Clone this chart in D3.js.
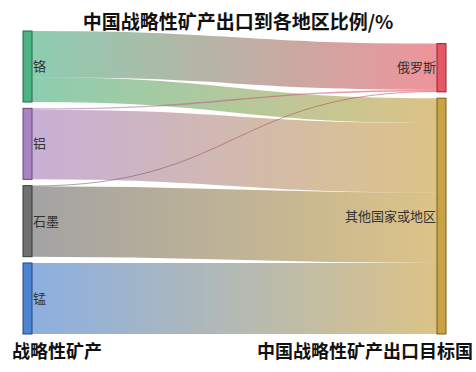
<!DOCTYPE html>
<html>
<head>
<meta charset="utf-8">
<script src="https://cdn.jsdelivr.net/npm/d3@7"></script>
<style>
  html, body { margin: 0; padding: 0; background: #fff; }
  svg { display: block; font-family: "Noto Sans CJK SC", "Noto Sans", sans-serif; }
</style>
</head>
<body>
<svg id="chart" width="476" height="372"></svg>
<script>
// Export shares (%) of each strategic mineral, by destination
const minerals = ["铬", "铝", "石墨", "锰"];
const destinations = ["俄罗斯", "其他国家或地区"];
const toRussia = [65, 2, 1, 0];
const toOthers = [35, 98, 99, 100];

const mineralColors = ["#2ea46e", "#9b6eb6", "#585858", "#2e6ec8"];
const destColors = ["#e03c49", "#bf9225"];

(function () {
  const svg = d3.select("#chart");
  const W = 476;

  // Layout frame
  const yTop = 31, yBottom = 334;
  const nodeW = 9;
  const leftX = 23, rightX = 437;
  const pad = 6.3;

  // Build nodes and links from the arrays
  const sources = minerals.map((name, i) => ({ name, color: mineralColors[i], side: 0,
    value: toRussia[i] + toOthers[i], out: [], in: [] }));
  const targets = destinations.map((name, i) => ({ name, color: destColors[i], side: 1,
    value: 0, out: [], in: [] }));
  const links = [];
  minerals.forEach((m, i) => {
    [toRussia[i], toOthers[i]].forEach((v, j) => {
      if (v > 0) {
        const l = { source: sources[i], target: targets[j], value: v };
        links.push(l);
        sources[i].out.push(l);
        targets[j].in.push(l);
        targets[j].value += v;
      }
    });
  });

  // Value-to-pixel scale, fitted on the busier (left) column
  const leftTotal = d3.sum(sources, d => d.value);
  const k = d3.scaleLinear()
    .domain([0, leftTotal])
    .range([0, (yBottom - yTop) - pad * (sources.length - 1)]);

  // Left column stacked from the top
  let y = yTop;
  sources.forEach(n => { n.x0 = leftX; n.x1 = leftX + nodeW; n.y0 = y; n.y1 = y + k(n.value); y = n.y1 + pad; });
  // Right column stacked up from the bottom
  y = yBottom;
  targets.slice().reverse().forEach(n => { n.x0 = rightX; n.x1 = rightX + nodeW; n.y1 = y; n.y0 = y - k(n.value); y = n.y0 - pad; });

  // Link attachment points
  sources.forEach(n => {
    let yy = n.y0;
    n.out.forEach(l => { l.width = k(l.value); l.y0 = yy + l.width / 2; yy += l.width; });
  });
  targets.forEach(n => {
    let yy = n.y0;
    n.in.forEach(l => { l.y1 = yy + l.width / 2; yy += l.width; });
  });

  // Gradients for links
  const defs = svg.append("defs");
  links.forEach((l, i) => {
    const g = defs.append("linearGradient")
      .attr("id", "lg" + i)
      .attr("gradientUnits", "userSpaceOnUse")
      .attr("x1", l.source.x1).attr("x2", l.target.x0)
      .attr("y1", 0).attr("y2", 0);
    g.append("stop").attr("offset", "0%").attr("stop-color", l.source.color);
    g.append("stop").attr("offset", "100%").attr("stop-color", l.target.color);
  });

  const linkPath = d3.linkHorizontal()
    .source(d => [d.source.x1, d.y0])
    .target(d => [d.target.x0, d.y1]);

  svg.append("g")
    .attr("fill", "none")
    .selectAll("path")
    .data(links)
    .join("path")
    .attr("d", linkPath)
    .attr("stroke", (d, i) => `url(#lg${i})`)
    .attr("stroke-width", d => Math.max(1, d.width))
    .attr("stroke-opacity", 0.55);

  const nodes = sources.concat(targets);
  svg.append("g")
    .selectAll("rect")
    .data(nodes)
    .join("rect")
    .attr("x", d => d.x0)
    .attr("y", d => d.y0)
    .attr("width", d => d.x1 - d.x0)
    .attr("height", d => d.y1 - d.y0)
    .attr("fill", d => d.color)
    .attr("fill-opacity", 0.85)
    .attr("stroke", d => d3.color(d.color).darker(1.2))
    .attr("stroke-width", 1);

  svg.append("g")
    .selectAll("text")
    .data(nodes)
    .join("text")
    .attr("x", d => d.side === 0 ? d.x1 + 1 : d.x0 - 1)
    .attr("y", d => (d.y0 + d.y1) / 2)
    .attr("dy", "0.35em")
    .attr("text-anchor", d => d.side === 0 ? "start" : "end")
    .attr("font-size", 13)
    .attr("fill", "#333")
    .text(d => d.name);

  // Title and column captions
  svg.append("text")
    .attr("x", W / 2).attr("y", 29)
    .attr("text-anchor", "middle")
    .attr("font-size", 19).attr("font-weight", "bold").attr("fill", "#111")
    .text("中国战略性矿产出口到各地区比例/%");

  svg.append("text")
    .attr("x", 12).attr("y", 358)
    .attr("font-size", 18).attr("font-weight", "bold").attr("fill", "#111")
    .text("战略性矿产");

  svg.append("text")
    .attr("x", 473).attr("y", 358)
    .attr("text-anchor", "end")
    .attr("font-size", 18).attr("font-weight", "bold").attr("fill", "#111")
    .text("中国战略性矿产出口目标国");
})();
</script>
</body>
</html>
